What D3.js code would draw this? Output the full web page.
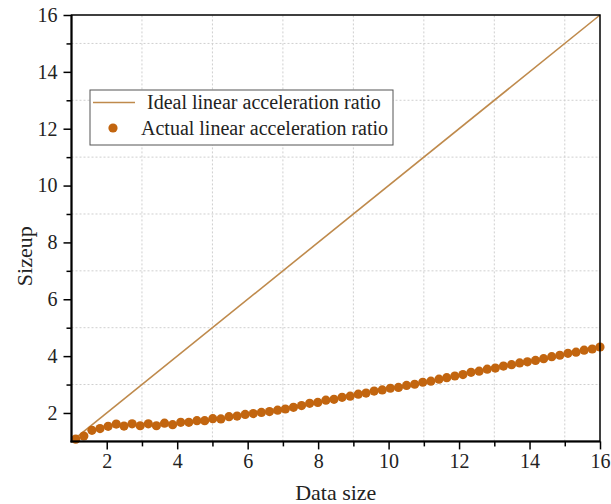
<!DOCTYPE html>
<html>
<head>
<meta charset="utf-8">
<script src="https://cdn.jsdelivr.net/npm/d3@7"></script>
<style>
  body { margin: 0; background: #fff; }
  svg { display: block; font-family: "Liberation Serif", "Times New Roman", serif; }
</style>
</head>
<body>
<div id="chart"></div>
<script>
// data
const dataSize = [
  1.12, 1.35, 1.58, 1.81, 2.04, 2.27, 2.49, 2.72, 2.95, 3.18, 3.41, 3.64, 3.87, 4.10, 4.33, 4.56,
  4.78, 5.01, 5.24, 5.47, 5.70, 5.93, 6.16, 6.39, 6.62, 6.85, 7.07, 7.30, 7.53, 7.76, 7.99, 8.22,
  8.45, 8.68, 8.91, 9.14, 9.36, 9.59, 9.82, 10.05, 10.28, 10.51, 10.74, 10.97, 11.20, 11.43, 11.65, 11.88,
  12.11, 12.34, 12.57, 12.80, 13.03, 13.26, 13.49, 13.72, 13.94, 14.17, 14.40, 14.63, 14.86, 15.09,
  15.32, 15.55, 15.78, 16.00
];
const actualSizeup = [
  1.08, 1.19, 1.39, 1.45, 1.53, 1.61, 1.54, 1.62, 1.55, 1.62, 1.55, 1.64, 1.59, 1.67, 1.67, 1.73,
  1.73, 1.80, 1.79, 1.87, 1.89, 1.95, 1.98, 2.02, 2.05, 2.10, 2.14, 2.20, 2.26, 2.34, 2.37, 2.45,
  2.48, 2.55, 2.59, 2.66, 2.70, 2.77, 2.81, 2.87, 2.90, 2.97, 3.01, 3.08, 3.12, 3.19, 3.24, 3.30,
  3.35, 3.43, 3.47, 3.54, 3.58, 3.65, 3.70, 3.76, 3.80, 3.85, 3.91, 3.98, 4.03, 4.10,
  4.14, 4.21, 4.25, 4.32
];
const idealX = [1, 16];
const idealY = [1, 16];
const majorTicks = [2, 4, 6, 8, 10, 12, 14, 16];
const minorTicks = [3, 5, 7, 9, 11, 13, 15];
const legendLabels = ["Ideal linear acceleration ratio", "Actual linear acceleration ratio"];

const W = 611, H = 504;
const margin = { top: 15, right: 11, bottom: 62.6, left: 71.5 };
const lineColor = "#bf8a4c";
const dotColor = "#c2650f";

const svg = d3.select("#chart").append("svg")
  .attr("width", W)
  .attr("height", H);

const x = d3.scaleLinear().domain([1, 16]).range([margin.left, W - margin.right]);
const y = d3.scaleLinear().domain([1, 16]).range([H - margin.bottom, margin.top]);

// grid at the minor positions
const grid = svg.append("g").attr("class", "grid")
  .attr("stroke", "#cfcfcf").attr("stroke-width", 1).attr("stroke-dasharray", "2,2");
grid.selectAll("line.gx").data(minorTicks).enter().append("line")
  .attr("x1", d => x(d)).attr("x2", d => x(d))
  .attr("y1", y(1)).attr("y2", y(16));
grid.selectAll("line.gy").data(minorTicks).enter().append("line")
  .attr("y1", d => y(d)).attr("y2", d => y(d))
  .attr("x1", x(1)).attr("x2", x(16));

// ideal line
const line = d3.line().x(d => x(d[0])).y(d => y(d[1]));
svg.append("path")
  .datum(d3.zip(idealX, idealY))
  .attr("d", line)
  .attr("fill", "none")
  .attr("stroke", lineColor)
  .attr("stroke-width", 1.6);

// actual points
svg.append("g").selectAll("circle")
  .data(d3.zip(dataSize, actualSizeup))
  .enter().append("circle")
  .attr("cx", d => x(d[0]))
  .attr("cy", d => y(d[1]))
  .attr("r", 4.6)
  .attr("fill", dotColor);

// axes
const fontSize = 20;
const xAxis = svg.append("g")
  .attr("transform", `translate(0,${ y(1) })`)
  .call(d3.axisBottom(x).tickValues(majorTicks).tickSize(8).tickPadding(4).tickFormat(d3.format("d")));
const xMinor = svg.append("g")
  .attr("transform", `translate(0,${ y(1) })`)
  .call(d3.axisBottom(x).tickValues(minorTicks).tickSize(5).tickFormat(""));
const yAxis = svg.append("g")
  .attr("transform", `translate(${ x(1) },0)`)
  .call(d3.axisLeft(y).tickValues(majorTicks).tickSize(8).tickPadding(6).tickFormat(d3.format("d")));
const yMinor = svg.append("g")
  .attr("transform", `translate(${ x(1) },0)`)
  .call(d3.axisLeft(y).tickValues(minorTicks).tickSize(5).tickFormat(""));

[xAxis, xMinor, yAxis, yMinor].forEach(a => {
  a.selectAll("path").remove();
  a.selectAll("line").attr("stroke", "#000").attr("stroke-width", 1.5);
  a.selectAll("text")
    .style("font-family", "Liberation Serif, serif")
    .style("font-size", `${ fontSize }px`)
    .attr("fill", "#222");
});

// frame
svg.append("rect")
  .attr("x", x(1)).attr("y", y(16))
  .attr("width", x(16) - x(1)).attr("height", y(1) - y(16))
  .attr("fill", "none").attr("stroke", "#000").attr("stroke-width", 1.5);
svg.append("line")
  .attr("x1", x(1)).attr("x2", x(1)).attr("y1", y(16)).attr("y2", y(1) + 1)
  .attr("stroke", "#000").attr("stroke-width", 2);
svg.append("line")
  .attr("x1", x(1) - 1).attr("x2", x(16)).attr("y1", y(1)).attr("y2", y(1))
  .attr("stroke", "#000").attr("stroke-width", 2);

// axis titles
svg.append("text")
  .attr("x", (x(1) + x(16)) / 2)
  .attr("y", 500)
  .attr("text-anchor", "middle")
  .style("font-size", "22px")
  .attr("fill", "#222")
  .text("Data size");
svg.append("text")
  .attr("transform", `translate(32,${ (y(1) + y(16)) / 2 + 28 }) rotate(-90)`)
  .attr("text-anchor", "middle")
  .style("font-size", "22px")
  .attr("fill", "#222")
  .text("Sizeup");

// legend
const legend = svg.append("g").attr("transform", "translate(90,90)");
legend.append("rect")
  .attr("width", 303).attr("height", 55)
  .attr("fill", "#fff").attr("stroke", "#555").attr("stroke-width", 1);
legend.append("line")
  .attr("x1", 3).attr("x2", 45).attr("y1", 12.5).attr("y2", 12.5)
  .attr("stroke", lineColor).attr("stroke-width", 1.6);
legend.append("circle")
  .attr("cx", 23).attr("cy", 38).attr("r", 4.6).attr("fill", dotColor);
legend.selectAll("text.lbl").data(legendLabels).enter().append("text")
  .attr("x", (d, i) => i === 0 ? 57 : 51)
  .attr("y", (d, i) => i === 0 ? 19 : 45)
  .style("font-size", "20px")
  .attr("fill", "#222")
  .text(d => d);
</script>
</body>
</html>
